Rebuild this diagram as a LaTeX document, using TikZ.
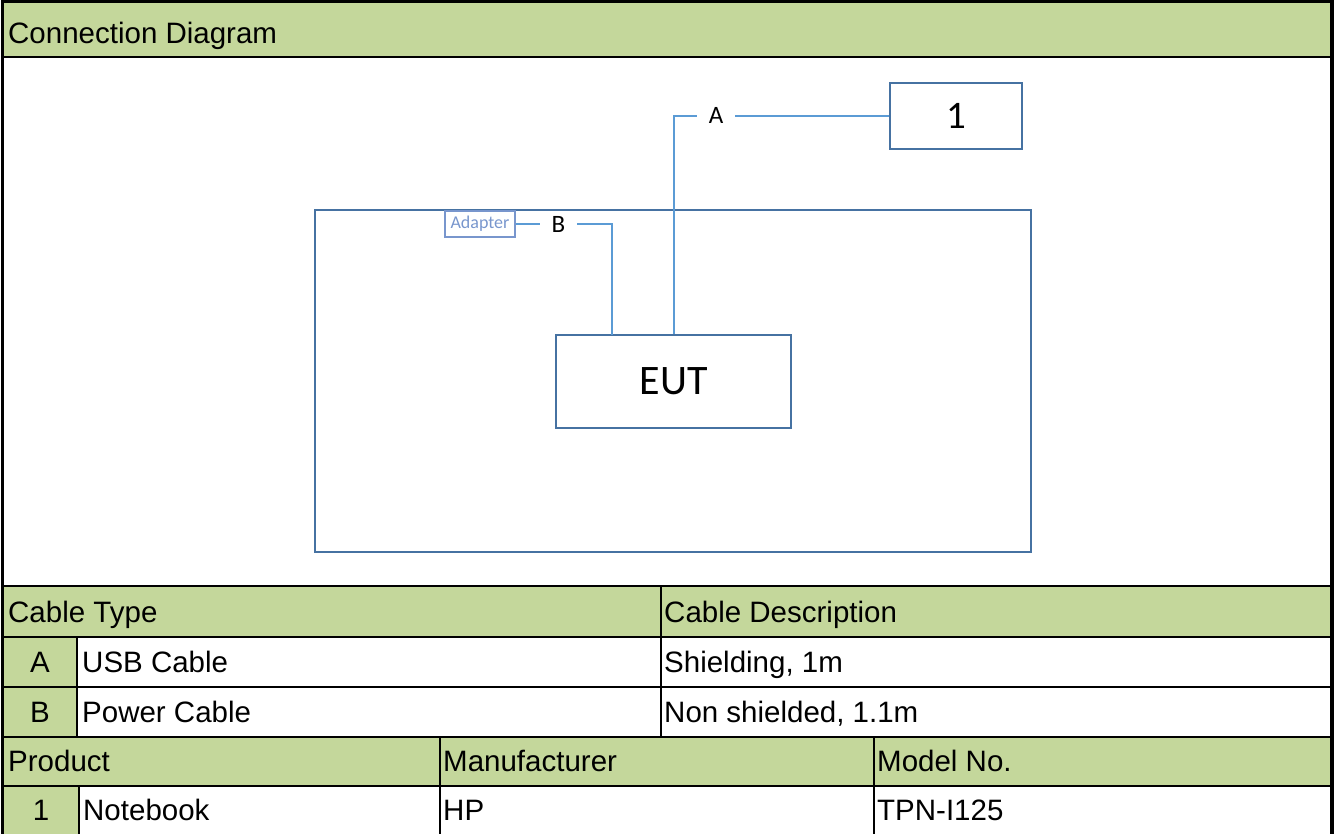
\documentclass[tikz,border=0pt]{standalone}
\usepackage{fontspec}
\setmainfont{Liberation Sans}
\newfontfamily\calibri{Carlito}
\usetikzlibrary{positioning}
\definecolor{hdrgreen}{RGB}{196,215,155}
\definecolor{boxblue}{RGB}{70,114,162}
\definecolor{cableblue}{RGB}{91,155,213}
\definecolor{adapterblue}{RGB}{120,150,205}

\begin{document}
\begin{tikzpicture}[x=1pt,y=-1pt]
	 \tikzstyle{cell}=[anchor=base west,inner sep=0pt,font=\fontsize{29.5}{31}\selectfont]
	 \tikzstyle{mid}=[anchor=base,inner sep=0pt,font=\fontsize{29.5}{31}\selectfont]
	 \tikzstyle{unit}=[draw=boxblue,line width=2pt,inner sep=0pt]
	 \tikzstyle{cable}=[draw=cableblue,line width=2pt]
	 \tikzstyle{tag}=[inner sep=0pt,font=\calibri\fontsize{25}{27}\selectfont]
	 \tikzstyle{thin}=[draw,black,line width=1.5pt]
	 \tikzstyle{thick}=[draw,black,line width=2.5pt]
	 \useasboundingbox (0,0) rectangle (1336,833);
	 \clip (0,0) rectangle (1336,833);

	 % green bands
	 \fill[hdrgreen] (3,3) rectangle (1333,57);
	 \fill[hdrgreen] (3,586) rectangle (1333,637);
	 \fill[hdrgreen] (3,637) rectangle (77,737);
	 \fill[hdrgreen] (3,737) rectangle (1333,786);
	 \fill[hdrgreen] (3,786) rectangle (79,840);

	 % table rules
	 \draw[thick] (3,57) -- (1333,57);
	 \draw[thick] (3,586) -- (1333,586);
	 \draw[thick] (3,637) -- (1333,637);
	 \draw[thin] (3,687) -- (1333,687);
	 \draw[thin] (3,737) -- (1333,737);
	 \draw[thin] (3,786) -- (1333,786);
	 \draw[thin] (77,637) -- (77,737);
	 \draw[thin] (661,586) -- (661,737);
	 \draw[thin] (79,786) -- (79,840);
	 \draw[thin] (440,737) -- (440,840);
	 \draw[thin] (874,737) -- (874,840);

	 % outer frame
	 \draw[black,line width=3pt] (2,840) -- (2,1.5) -- (1331.5,1.5);
	 \draw[black,line width=4pt] (1331.5,0) -- (1331.5,840);

	 % table texts
	 \node[cell] (title) at (8,43) {Connection Diagram};
	 \node[cell] (ctype) at (8,622) {Cable Type};
	 \node[cell] (cdesc) at (664,622) {Cable Description};
	 \node[mid] (ia) at (40,672) {A};
	 \node[cell] (ta) at (82,672) {USB Cable};
	 \node[cell] (da) at (664,672) {Shielding, 1m};
	 \node[mid] (ib) at (40,722) {B};
	 \node[cell] (tb) at (82,722) {Power Cable};
	 \node[cell] (db) at (664,722) {Non shielded, 1.1m};
	 \node[cell] (prod) at (8,771) {Product};
	 \node[cell] (manu) at (443,771) {Manufacturer};
	 \node[cell] (model) at (877,771) {Model No.};
	 \node[mid] (i1) at (41,820) {1};
	 \node[cell] (p1) at (83,820) {Notebook};
	 \node[cell] (m1) at (443,820) {HP};
	 \node[cell] (n1) at (877,820) {TPN-I125};

	 % connection diagram
	 \node[unit,minimum width=716,minimum height=342] (desk) at (673,381) {};
	 \node[unit,minimum width=235,minimum height=93,font=\calibri\fontsize{42}{44}\selectfont] (eut) at (673.5,381.5) {EUT};
	 \node[unit,minimum width=132,minimum height=66,font=\calibri\fontsize{39}{41}\selectfont] (dev1) at (956,115.5) {1};
	 \node[draw=adapterblue,line width=1.5pt,minimum width=70,minimum height=26,inner sep=0pt,text=adapterblue,font=\calibri\fontsize{18}{19}\selectfont] (adapter) at (480,224) {Adapter};
	 \node[tag,minimum width=38] (labA) at (716,115.5) {A};
	 \node[tag,minimum width=37] (labB) at (558.5,224) {B};
	 \coordinate (eutB) at (612,335);

	 \draw[cable] (eut.north) |- (labA.west);
	 \draw[cable] (labA.east) -- (dev1.west);
	 \draw[cable] (adapter.east) -- (labB.west);
	 \draw[cable] (labB.east) -| (eutB);
 \end{tikzpicture}
\end{document}
